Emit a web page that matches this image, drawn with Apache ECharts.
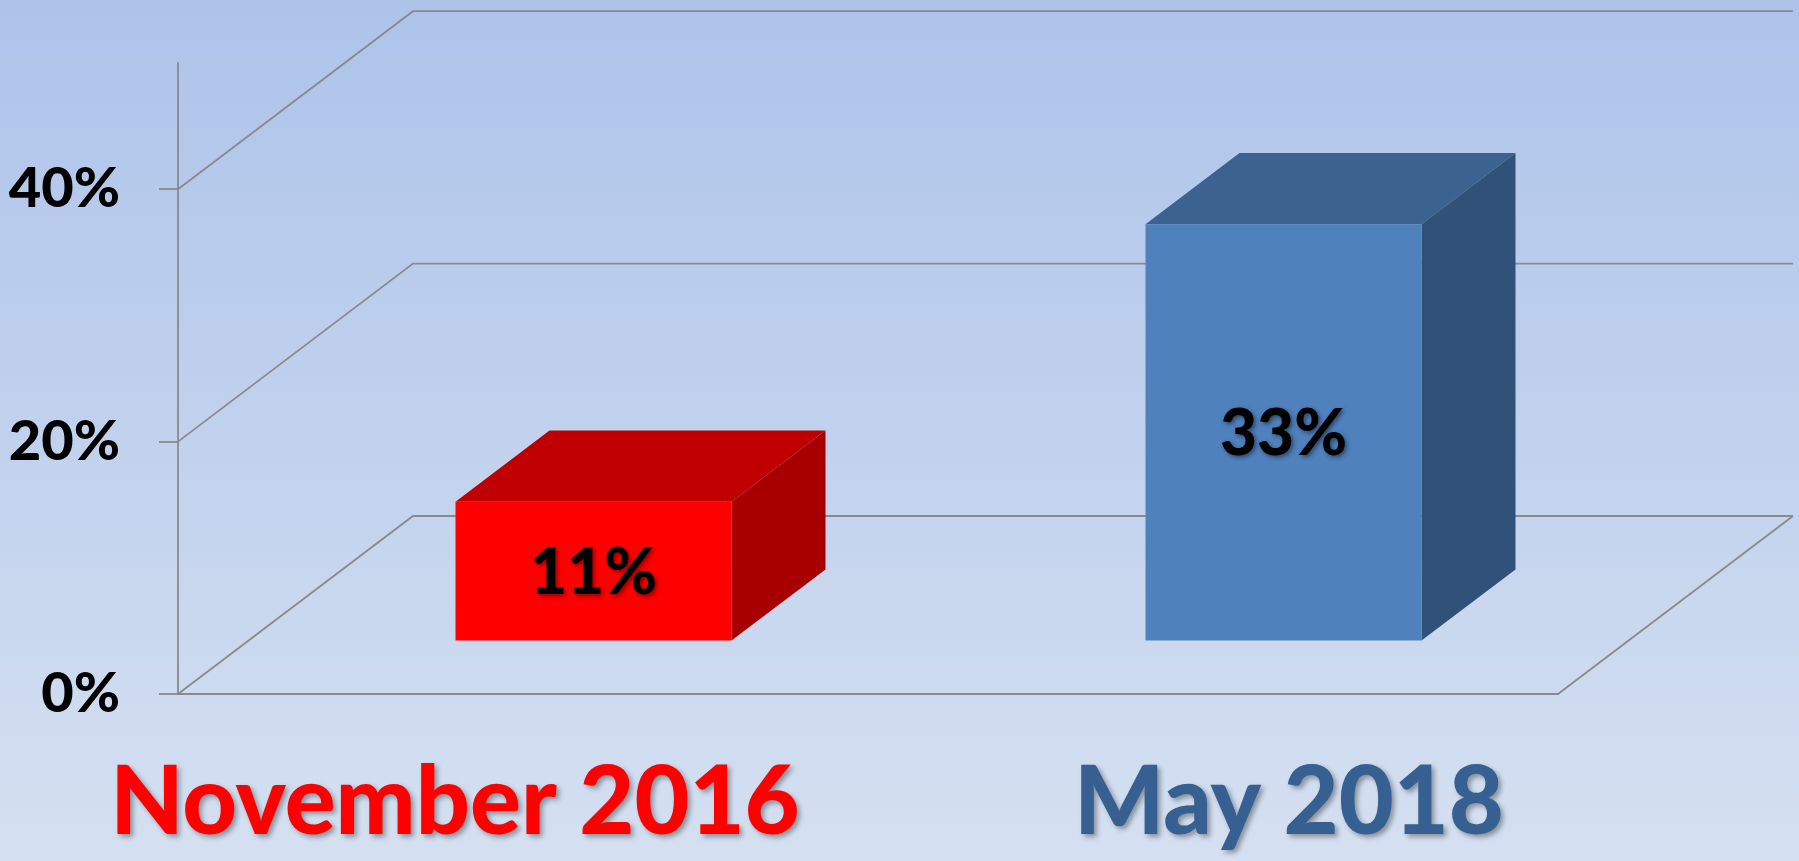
<!DOCTYPE html>
<html>
<head>
<meta charset="utf-8">
<script src="https://cdn.jsdelivr.net/npm/echarts@6/dist/echarts.min.js"></script>
<style>
  html, body { margin: 0; padding: 0; }
  #chart { width: 1799px; height: 861px; }
</style>
</head>
<body>
<div id="chart"></div>
<script>
const categories = ["November 2016", "May 2018"];
const values = [11, 33];
const yTicks = [0, 20, 40];

const faceColors = ["#ff0000", "#4f81bd"];
const topColors = ["#c00000", "#3c6390"];
const sideColors = ["#a80000", "#315278"];
const labelColors = ["#ff0000", "#376092"];

// depth of the 3d box in pixels
const DEPTH_X = 235;
const DEPTH_Y = 178;
const FONT = "Lato, 'Open Sans', sans-serif";
const WEIGHT = 900;

function render_walls(params, api) {
    const cs = params.coordSys;
    const v = api.value(0);
    const y = api.coord([0, v])[1];
    const x0 = cs.x;
    const x1 = cs.x + cs.width;
    const line = { stroke: "#8a8a8a", lineWidth: 1.8, fill: null };
    const children = [{
        type: "polyline",
        shape: { points: [[x0, y], [x0 + DEPTH_X, y - DEPTH_Y], [x1 + DEPTH_X, y - DEPTH_Y]] },
        style: line
    }];
    if (v === 0) {
        children.push({
            type: "line",
            shape: { x1: x1, y1: y, x2: x1 + DEPTH_X, y2: y - DEPTH_Y },
            style: line
        });
    }
    return { type: "group", children: children };
}

function render_bar(params, api) {
    const i = api.value(0);
    const base = api.coord([i, 0]);
    const top = api.coord([i, api.value(1)]);
    const band = api.size([1, 0])[0];
    const w = band * 0.4;
    const ox = DEPTH_X * 0.3, oy = DEPTH_Y * 0.3;
    const bx = DEPTH_X * 0.4, by = DEPTH_Y * 0.4;
    const xl = base[0] - w / 2 + ox;
    const xr = xl + w;
    const yb = base[1] - oy;
    const yt = top[1] - oy;
    return {
        type: "group",
        children: [
            {
                type: "polygon",
                shape: { points: [[xl, yt], [xl + bx, yt - by], [xr + bx, yt - by], [xr, yt]] },
                style: { fill: topColors[i] }
            },
            {
                type: "polygon",
                shape: { points: [[xr, yt], [xr + bx, yt - by], [xr + bx, yb - by], [xr, yb]] },
                style: { fill: sideColors[i] }
            },
            {
                type: "rect",
                shape: { x: xl, y: yt, width: w, height: yb - yt },
                style: { fill: faceColors[i] }
            },
            {
                type: "text",
                x: (xl + xr) / 2,
                y: (yt + yb) / 2 + 2,
                style: {
                    text: api.value(1) + "%",
                    fill: "#000",
                    font: WEIGHT + " 64px " + FONT,
                    align: "center",
                    verticalAlign: "middle",
                    textShadowColor: "rgba(0,0,0,0.45)",
                    textShadowBlur: 4,
                    textShadowOffsetX: 2,
                    textShadowOffsetY: 2
                }
            }
        ]
    };
}

const chart = echarts.init(document.getElementById("chart"));
chart.setOption({
    backgroundColor: {
        type: "linear", x: 0, y: 0, x2: 0, y2: 1,
        colorStops: [{ offset: 0, color: "#adc3ea" }, { offset: 1, color: "#d5e0f1" }]
    },
    animation: false,
    grid: { left: 178, right: 241, top: 63, bottom: 167 },
    xAxis: {
        type: "category",
        data: categories,
        axisLine: { lineStyle: { color: "#8a8a8a", width: 1.8 } },
        axisTick: { inside: true, length: 15, lineStyle: { color: "#8a8a8a", width: 1.8 } },
        axisLabel: {
            interval: 0,
            margin: 62,
            overflow: "none",
            formatter: (v, i) => "{c" + i + "|" + v + "}",
            rich: {
                c0: {
                    color: labelColors[0], fontSize: 95, fontWeight: WEIGHT, fontFamily: FONT,
                    padding: [0, 136, 0, 0],
                    textShadowColor: "rgba(0,0,0,0.35)", textShadowBlur: 5,
                    textShadowOffsetX: 3, textShadowOffsetY: 3
                },
                c1: {
                    color: labelColors[1], fontSize: 95, fontWeight: WEIGHT, fontFamily: FONT,
                    padding: [0, 0, 0, 152],
                    textShadowColor: "rgba(0,0,0,0.35)", textShadowBlur: 5,
                    textShadowOffsetX: 3, textShadowOffsetY: 3
                }
            }
        }
    },
    yAxis: {
        type: "value",
        min: 0,
        max: 50,
        interval: 10,
        axisLine: { show: true, lineStyle: { color: "#8a8a8a", width: 1.8 } },
        axisTick: { show: true, length: 19, customValues: yTicks, lineStyle: { color: "#8a8a8a", width: 1.8 } },
        axisLabel: {
            customValues: yTicks,
            formatter: "{value}%",
            margin: 58,
            color: "#000",
            fontSize: 56,
            fontWeight: WEIGHT,
            fontFamily: FONT
        },
        splitLine: { show: false }
    },
    series: [
        {
            type: "custom",
            z: 1,
            silent: true,
            renderItem: render_walls,
            data: yTicks.map((v) => [v])
        },
        {
            type: "custom",
            z: 2,
            renderItem: render_bar,
            data: values.map((v, i) => [i, v])
        }
    ]
});
</script>
</body>
</html>
